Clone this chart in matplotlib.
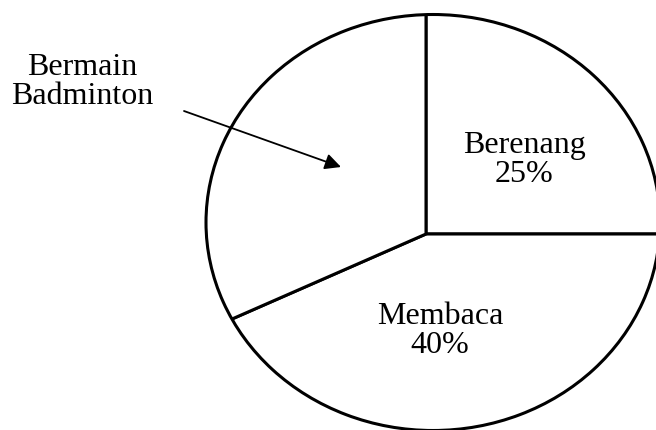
import matplotlib
matplotlib.use("Agg")
import matplotlib.pyplot as plt

# Data: wedge sizes as drawn (not to scale with the printed labels)
kegiatan = ["Berenang", "Membaca", "Bermain\nBadminton"]
ukuran = [25.0, 42.9, 32.1]
persen = ["25%", "40%", None]

plt.rcParams['font.family'] = ['Liberation Serif', 'DejaVu Serif']

fig = plt.figure(figsize=(6.56, 4.30), dpi=100)
ax = fig.add_axes([0, 0, 1, 1])

garis = dict(edgecolor='black', linewidth=2.2)

# slices meet at pixel (426, 234), which is not the outline centre,
# so draw them larger and hide what sticks out of the outline
pusat = ((426 - 433) / 227, (222.5 - 234) / 208)
irisan, _ = ax.pie(ukuran, startangle=90, counterclock=False, radius=1.6,
                   center=pusat, colors=['white'] * len(ukuran),
                   wedgeprops=garis)

# white ring outside the outline
topeng, _ = ax.pie([1], radius=3, center=(0, 0), colors=['white'],
                   wedgeprops=dict(width=2, edgecolor='none'))
for w in topeng:
    w.set_zorder(3)

# outline: ellipse centre at pixel (433, 222.5), radii 227 x 208 px
luar, _ = ax.pie([1], radius=1, center=(0, 0), colors=['none'],
                 wedgeprops=garis)
for w in luar:
    w.set_zorder(4)

ax.set_xlim(-433 / 227, (656 - 433) / 227)
ax.set_ylim((222.5 - 430) / 208, 222.5 / 208)
ax.set_aspect('auto')
ax.axis('off')

# label positions in pixels (from top-left)
pos_label = [(524, 160), (440, 331), (82, 82)]
for nama, p, (px, py) in zip(kegiatan, persen, pos_label):
    teks = nama if p is None else nama + "\n" + p
    ax.annotate(teks, xy=(px, 430 - py), xycoords='figure pixels',
                ha='center', va='center', fontsize=23, linespacing=1.0,
                zorder=6)

# arrow from the outside label into its slice
ax.annotate('', xy=(341, 430 - 167), xytext=(184, 430 - 111),
            xycoords='figure pixels', textcoords='figure pixels',
            arrowprops=dict(arrowstyle='-|>', color='black', lw=1.3,
                            mutation_scale=24, shrinkA=0, shrinkB=0),
            zorder=6)

fig.savefig("out.png", dpi=100, facecolor='white')
